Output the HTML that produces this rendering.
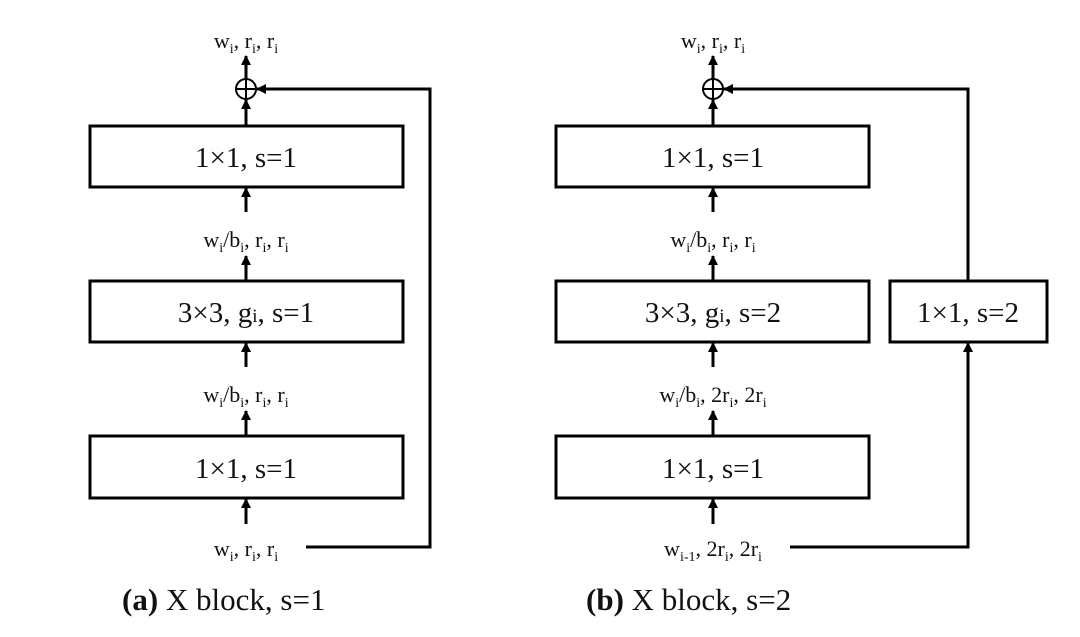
<!DOCTYPE html>
<html><head><meta charset="utf-8"><style>
html,body{margin:0;padding:0;background:#fff;}
svg text{font-family:"Liberation Serif",serif;fill:#111;}
</style></head><body>
<svg width="1080" height="632" viewBox="0 0 1080 632" xmlns="http://www.w3.org/2000/svg">
<defs>
<marker id="ah" markerWidth="10" markerHeight="10" refX="9" refY="5" orient="auto" markerUnits="userSpaceOnUse">
<path d="M0,0 L10,5 L0,10 Z" fill="#000"/>
</marker>
</defs>
<g stroke="#000" stroke-width="3" fill="none">
<!-- left column -->
<rect x="90" y="126" width="313" height="61"/>
<rect x="90" y="281" width="313" height="61"/>
<rect x="90" y="436" width="313" height="62"/>
<circle cx="246" cy="89" r="10" stroke-width="2"/>
<line x1="236" y1="89" x2="256" y2="89" stroke-width="2"/>
<line x1="246" y1="79" x2="246" y2="99" stroke-width="2"/>
<line x1="246" y1="126" x2="246" y2="100" marker-end="url(#ah)"/>
<line x1="246" y1="79" x2="246" y2="56" marker-end="url(#ah)"/>
<line x1="246" y1="212" x2="246" y2="188" marker-end="url(#ah)"/>
<line x1="246" y1="281" x2="246" y2="256" marker-end="url(#ah)"/>
<line x1="246" y1="367" x2="246" y2="343" marker-end="url(#ah)"/>
<line x1="246" y1="436" x2="246" y2="411" marker-end="url(#ah)"/>
<line x1="246" y1="524" x2="246" y2="499" marker-end="url(#ah)"/>
<polyline points="306,547 430,547 430,89 257,89" marker-end="url(#ah)"/>
<!-- right column -->
<rect x="556" y="126" width="313" height="61"/>
<rect x="556" y="281" width="313" height="61"/>
<rect x="556" y="436" width="313" height="62"/>
<rect x="890" y="281" width="157" height="61"/>
<circle cx="713" cy="89" r="10" stroke-width="2"/>
<line x1="703" y1="89" x2="723" y2="89" stroke-width="2"/>
<line x1="713" y1="79" x2="713" y2="99" stroke-width="2"/>
<line x1="713" y1="126" x2="713" y2="100" marker-end="url(#ah)"/>
<line x1="713" y1="79" x2="713" y2="56" marker-end="url(#ah)"/>
<line x1="713" y1="212" x2="713" y2="188" marker-end="url(#ah)"/>
<line x1="713" y1="281" x2="713" y2="256" marker-end="url(#ah)"/>
<line x1="713" y1="367" x2="713" y2="343" marker-end="url(#ah)"/>
<line x1="713" y1="436" x2="713" y2="411" marker-end="url(#ah)"/>
<line x1="713" y1="524" x2="713" y2="499" marker-end="url(#ah)"/>
<polyline points="790,547 968,547 968,343" marker-end="url(#ah)"/>
<polyline points="968,281 968,89 724,89" marker-end="url(#ah)"/>
</g>
<g font-size="22" text-anchor="middle">
<text x="246" y="48">w<tspan font-size="14" dy="5">i</tspan><tspan dy="-5">, r</tspan><tspan font-size="14" dy="5">i</tspan><tspan dy="-5">, r</tspan><tspan font-size="14" dy="5">i</tspan></text>
<text x="246" y="247">w<tspan font-size="14" dy="5">i</tspan><tspan dy="-5">/b</tspan><tspan font-size="14" dy="5">i</tspan><tspan dy="-5">, r</tspan><tspan font-size="14" dy="5">i</tspan><tspan dy="-5">, r</tspan><tspan font-size="14" dy="5">i</tspan></text>
<text x="246" y="402">w<tspan font-size="14" dy="5">i</tspan><tspan dy="-5">/b</tspan><tspan font-size="14" dy="5">i</tspan><tspan dy="-5">, r</tspan><tspan font-size="14" dy="5">i</tspan><tspan dy="-5">, r</tspan><tspan font-size="14" dy="5">i</tspan></text>
<text x="246" y="556">w<tspan font-size="14" dy="5">i</tspan><tspan dy="-5">, r</tspan><tspan font-size="14" dy="5">i</tspan><tspan dy="-5">, r</tspan><tspan font-size="14" dy="5">i</tspan></text>
<text x="713" y="48">w<tspan font-size="14" dy="5">i</tspan><tspan dy="-5">, r</tspan><tspan font-size="14" dy="5">i</tspan><tspan dy="-5">, r</tspan><tspan font-size="14" dy="5">i</tspan></text>
<text x="713" y="247">w<tspan font-size="14" dy="5">i</tspan><tspan dy="-5">/b</tspan><tspan font-size="14" dy="5">i</tspan><tspan dy="-5">, r</tspan><tspan font-size="14" dy="5">i</tspan><tspan dy="-5">, r</tspan><tspan font-size="14" dy="5">i</tspan></text>
<text x="713" y="402">w<tspan font-size="14" dy="5">i</tspan><tspan dy="-5">/b</tspan><tspan font-size="14" dy="5">i</tspan><tspan dy="-5">, 2r</tspan><tspan font-size="14" dy="5">i</tspan><tspan dy="-5">, 2r</tspan><tspan font-size="14" dy="5">i</tspan></text>
<text x="713" y="556">w<tspan font-size="14" dy="5">i-1</tspan><tspan dy="-5">, 2r</tspan><tspan font-size="14" dy="5">i</tspan><tspan dy="-5">, 2r</tspan><tspan font-size="14" dy="5">i</tspan></text>
</g>
<g font-size="29" text-anchor="middle">
<text x="246" y="167">1×1, s=1</text>
<text x="246" y="322">3×3, g<tspan font-size="19">i</tspan>, s=1</text>
<text x="246" y="478">1×1, s=1</text>
<text x="713" y="167">1×1, s=1</text>
<text x="713" y="322">3×3, g<tspan font-size="19">i</tspan>, s=2</text>
<text x="713" y="478">1×1, s=1</text>
<text x="968" y="322">1×1, s=2</text>
</g>
<g font-size="31">
<text x="122" y="610"><tspan font-weight="bold">(a)</tspan> X block, s=1</text>
<text x="586" y="610"><tspan font-weight="bold">(b)</tspan> X block, s=2</text>
</g>
</svg>
</body></html>
